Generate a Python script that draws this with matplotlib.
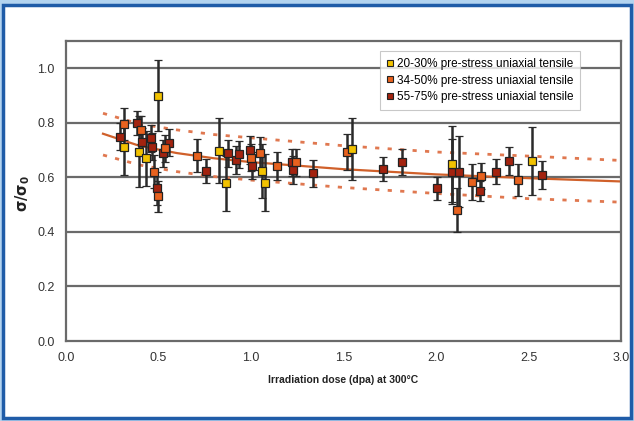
import matplotlib.pyplot as plt
from matplotlib.lines import Line2D
from matplotlib.patches import Rectangle

plt.rcParams['font.family'] = ['Liberation Sans', 'DejaVu Sans']

# 20-30% pre-stress
y_x = [0.314, 0.396, 0.432, 0.499, 0.829, 0.863, 1.058, 1.076, 1.544, 2.085, 2.52]
y_y = [0.71, 0.694, 0.67, 0.90, 0.698, 0.578, 0.623, 0.58, 0.704, 0.648, 0.66]
y_e = [0.10, 0.13, 0.10, 0.13, 0.12, 0.10, 0.10, 0.105, 0.113, 0.14, 0.124]

# 34-50% pre-stress
o_x = [0.314, 0.404, 0.476, 0.496, 0.535, 0.706, 1.0, 1.047, 1.139, 1.243, 1.517,
       2.115, 2.193, 2.243, 2.441]
o_y = [0.796, 0.774, 0.621, 0.53, 0.707, 0.68, 0.672, 0.688, 0.642, 0.655, 0.694,
       0.48, 0.582, 0.605, 0.59]
o_e = [0.06, 0.05, 0.06, 0.056, 0.05, 0.06, 0.05, 0.06, 0.05, 0.05, 0.066,
       0.08, 0.066, 0.047, 0.06]

# 55-75% pre-stress
r_x = [0.292, 0.382, 0.409, 0.458, 0.467, 0.49, 0.526, 0.557, 0.755, 0.877, 0.917,
       0.937, 0.995, 1.005, 1.22, 1.229, 1.337, 1.715, 1.815, 2.004, 2.088, 2.126,
       2.238, 2.324, 2.393, 2.571]
r_y = [0.749, 0.80, 0.731, 0.743, 0.713, 0.56, 0.688, 0.727, 0.622, 0.688, 0.664,
       0.684, 0.70, 0.643, 0.655, 0.627, 0.615, 0.63, 0.657, 0.56, 0.621, 0.62,
       0.55, 0.621, 0.66, 0.609]
r_e = [0.05, 0.045, 0.05, 0.05, 0.05, 0.06, 0.05, 0.05, 0.044, 0.05, 0.05,
       0.05, 0.05, 0.05, 0.05, 0.05, 0.05, 0.045, 0.047, 0.042, 0.12, 0.13,
       0.035, 0.046, 0.05, 0.05]

# trend line and bounds
fit_x = [0.2, 0.4, 0.6, 0.8, 1.0, 1.5, 2.0, 2.5, 3.0]
fit_y = [0.760, 0.715, 0.689, 0.670, 0.656, 0.630, 0.611, 0.597, 0.585]
up_y = [0.835, 0.795, 0.774, 0.757, 0.745, 0.716, 0.693, 0.678, 0.662]
lo_y = [0.682, 0.645, 0.621, 0.603, 0.590, 0.563, 0.541, 0.522, 0.509]

labels = ['20-30% pre-stress uniaxial tensile',
          '34-50% pre-stress uniaxial tensile',
          '55-75% pre-stress uniaxial tensile']
colors = ['#F2C200', '#E8621E', '#A3230F']

fig = plt.figure(figsize=(6.34, 4.21), dpi=100)
fig.patch.set_facecolor('#B3D4F0')
fig.patches.append(Rectangle((3 / 634, 3 / 421), 628 / 634, 413 / 421,
                             transform=fig.transFigure, facecolor='white',
                             edgecolor='#1F5CA8', linewidth=2.5, zorder=-10))

ax = fig.add_axes([66 / 634, 80 / 421, 555 / 634, 300 / 421])

for v in [0.2, 0.4, 0.6, 0.8, 1.0]:
    ax.axhline(v, color='#6a6a6a', lw=1.6, zorder=1)

ax.plot(fit_x, up_y, color='#E07850', lw=2, ls=(0, (1.5, 3)), zorder=2)
ax.plot(fit_x, lo_y, color='#E07850', lw=2, ls=(0, (1.5, 3)), zorder=2)
ax.plot(fit_x, fit_y, color='#D0602A', lw=1.6, zorder=2)

for xs, ys, es, c in [(r_x, r_y, r_e, colors[2]), (o_x, o_y, o_e, colors[1]),
                      (y_x, y_y, y_e, colors[0])]:
    ax.errorbar(xs, ys, yerr=es, fmt='s', ms=5.5, mfc=c, mec='#222222', mew=0.9,
                ecolor='#2a2a2a', elinewidth=1.8, capsize=3, capthick=1.8, zorder=3)

ax.set_xlim(0, 3.0)
ax.set_ylim(0, 1.1)
ax.set_xticks([0, 0.5, 1.0, 1.5, 2.0, 2.5, 3.0])
ax.set_yticks([0, 0.2, 0.4, 0.6, 0.8, 1.0])
ax.xaxis.set_major_formatter(plt.FormatStrFormatter('%.1f'))
ax.yaxis.set_major_formatter(plt.FormatStrFormatter('%.1f'))
ax.tick_params(length=0, labelsize=9, colors='#333333', pad=8)
for s in ax.spines.values():
    s.set_color('#6a6a6a')
    s.set_linewidth(1.6)

ax.set_xlabel('Irradiation dose (dpa) at 300°C', fontsize=7.5, fontweight='bold',
              color='#222222', labelpad=8)
ax.set_ylabel(r'$\mathbf{\sigma/\sigma_0}$', fontsize=10.5, color='#222222')
ax.yaxis.set_label_coords(-0.062, 0.49)

handles = [Line2D([], [], ls='none', marker='s', ms=5, mfc=c, mec='#222222', mew=0.8)
           for c in colors]
leg = ax.legend(handles, labels, loc='upper right', bbox_to_anchor=(0.937, 0.985),
                fontsize=8.5, frameon=True, fancybox=False, handlelength=0.6,
                handletextpad=0.3, borderpad=0.55, labelspacing=0.4)
leg.get_frame().set_edgecolor('#bbbbbb')
leg.get_frame().set_linewidth(0.8)

fig.savefig('out.png', dpi=100, facecolor=fig.get_facecolor())
